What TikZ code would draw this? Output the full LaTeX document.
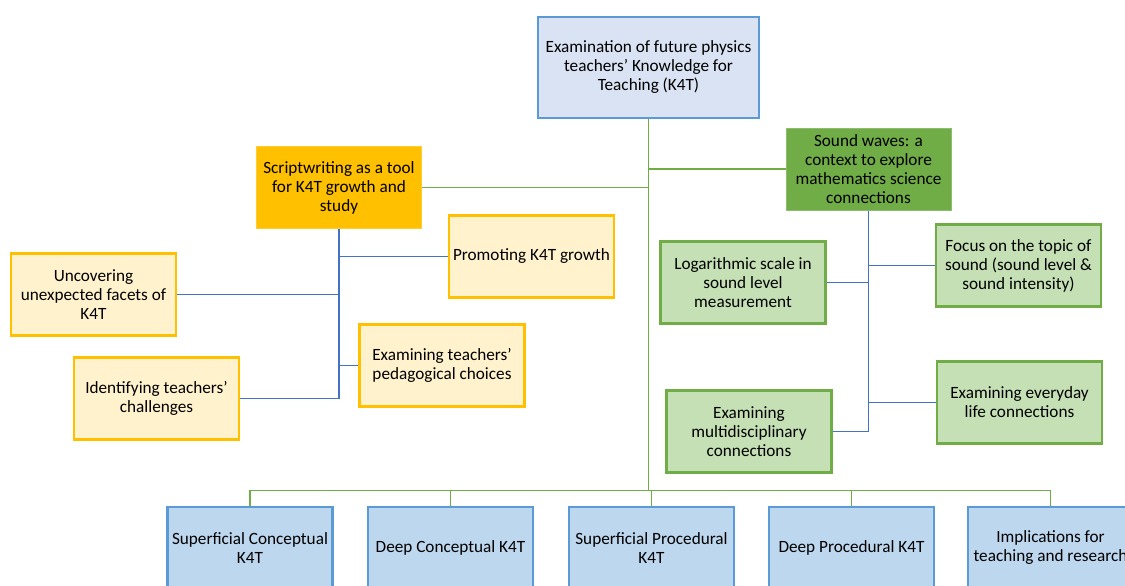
\documentclass[tikz,border=0pt]{standalone}
\usepackage{fontspec}
\setmainfont{Carlito}
\definecolor{topfill}{HTML}{DAE3F3}
\definecolor{boxblue}{HTML}{5B9BD5}
\definecolor{lowfill}{HTML}{BDD7EE}
\definecolor{gold}{HTML}{FFC000}
\definecolor{lightgold}{HTML}{FFF2CC}
\definecolor{leaf}{HTML}{70AD47}
\definecolor{lightleaf}{HTML}{C5E0B4}
\definecolor{linkblue}{HTML}{4472C4}
\begin{document}
\begin{tikzpicture}[x=1pt,y=-1pt,
	box/.style={rectangle,align=center,inner sep=0pt,line width=2.5pt,
		minimum width=165,minimum height=82,font=\fontsize{17.2}{19}\selectfont},
	mainbox/.style={box,fill=topfill,draw=boxblue,minimum width=221,minimum height=101},
	goldbox/.style={box,fill=gold,draw=gold!80!white,line width=1pt},
	goldleaf/.style={box,fill=lightgold,draw=gold},
	greenbox/.style={box,fill=leaf,draw=leaf!80!white,line width=1pt},
	greenleaf/.style={box,fill=lightleaf,draw=leaf},
	lowbox/.style={box,fill=lowfill,draw=boxblue},
	greenlink/.style={draw=leaf,line width=1.3pt},
	bluelink/.style={draw=linkblue,line width=1.3pt}]
	\useasboundingbox (0,0) rectangle (1125,586);
	\clip (0,0) rectangle (1125,586);
	% main topic
	\node[mainbox] (top) at (648.5,67.5) {Examination of future physics\\teachers’ Knowledge for\\Teaching (K4T)};
	% scriptwriting branch
	\node[goldbox] (script) at (339,187.5) {Scriptwriting as a tool\\for K4T growth and\\study};
	\node[goldleaf] (promo) at (531.5,256.5) {Promoting K4T growth};
	\node[goldleaf] (uncov) at (93.5,294.5) {Uncovering\\unexpected facets of\\K4T};
	\node[goldleaf] (pedag) at (442,365.5) {Examining teachers’\\pedagogical choices};
	\node[goldleaf] (ident) at (156.5,398.5) {Identifying teachers’\\challenges};
	% sound waves branch
	\node[greenbox] (sound) at (868.5,169) {Sound waves: a\\context to explore\\mathematics science\\connections};
	\node[greenleaf] (logsc) at (743,282.5) {Logarithmic scale in\\sound level\\measurement};
	\node[greenleaf] (focus) at (1018.5,265.5) {Focus on the topic of\\sound (sound level \&\\sound intensity)};
	\node[greenleaf] (daily) at (1019.5,402.5) {Examining everyday\\life connections};
	\node[greenleaf] (multi) at (749,431.5) {Examining\\multidisciplinary\\connections};
	% K4T kinds
	\node[lowbox] (sc) at (250,548) {Superficial Conceptual\\K4T};
	\node[lowbox] (dc) at (450.5,548) {Deep Conceptual K4T};
	\node[lowbox] (sp) at (651.5,548) {Superficial Procedural\\K4T};
	\node[lowbox] (dp) at (851.5,548) {Deep Procedural K4T};
	\node[lowbox] (impl) at (1050.5,548) {Implications for\\teaching and research};
	% links
	\draw[greenlink] (top.south) -- ++(0,371) coordinate (bus);
	\draw[greenlink] (top.south |- sound.west) -- (sound.west);
	\draw[greenlink] (script.east) -- (script.east -| top.south);
	\foreach \n in {sc,dc,sp,dp,impl}
		\draw[greenlink] (bus) -| (\n.north);
	\foreach \n in {promo,pedag}
		\draw[bluelink] (script.south) |- (\n.west);
	\foreach \n in {uncov,ident}
		\draw[bluelink] (script.south) |- (\n.east);
	\foreach \n in {focus,daily}
		\draw[bluelink] (sound.south) |- (\n.west);
	\foreach \n in {logsc,multi}
		\draw[bluelink] (sound.south) |- (\n.east);
\end{tikzpicture}
\end{document}
